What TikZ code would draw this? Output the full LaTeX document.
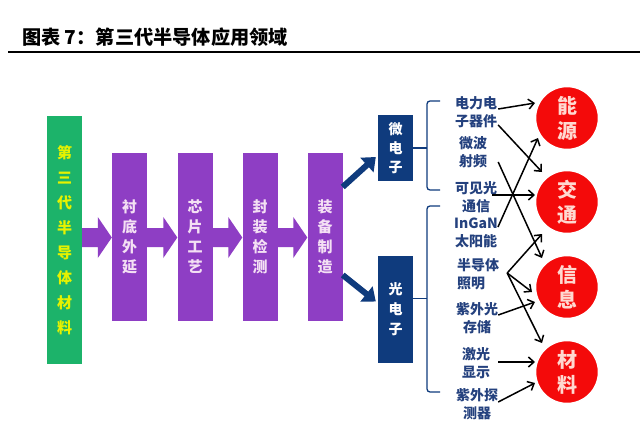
\documentclass[tikz,border=0pt]{standalone}
\usepackage{fontspec}
\setmainfont{Noto Sans CJK SC}
\usetikzlibrary{calc,arrows.meta}
\definecolor{purp}{HTML}{8E3EC4}
\definecolor{grn}{HTML}{1CB36A}
\definecolor{ylw}{HTML}{E6F200}
\definecolor{navy}{HTML}{0F3B7D}
\definecolor{lblue}{HTML}{24417E}
\definecolor{cred}{HTML}{F40A0A}
\definecolor{ctext}{HTML}{FFD8D0}
\definecolor{ptext}{HTML}{F4E0F4}
\begin{document}
\begin{tikzpicture}[x=1pt,y=-1pt,
  greenbox/.style={fill=grn, draw=none, minimum width=35, minimum height=248, inner sep=0,
    align=center, text=ylw, font=\fontsize{15}{25}\selectfont\bfseries},
  purpbox/.style={fill=purp, draw=none, minimum width=35, minimum height=168, inner sep=0,
    align=center, text=ptext, font=\fontsize{15}{20}\selectfont\bfseries},
  navybox/.style={fill=navy, draw=none, minimum width=35, inner sep=0,
    align=center, text=white, font=\fontsize{14}{19}\selectfont\bfseries},
  lbl/.style={align=center, inner sep=1pt, text=lblue, font=\fontsize{14}{18}\selectfont\bfseries},
  circ/.style={circle, fill=cred, draw=white, line width=1.5pt, minimum size=63, inner sep=0,
    align=center, text=ctext, font=\fontsize{20}{25}\selectfont\bfseries},
  brace/.style={navy, line width=1.3pt},
  bigarrow/.style={navy, line width=6pt, -{Triangle[length=12pt,width=19pt]}},
  thin/.style={black, line width=1.5pt, -{Straight Barb[length=5.5pt,width=10pt]}}
]
\useasboundingbox (0,0) rectangle (640,442);
\fill[white] (0,0) rectangle (640,442);

% title
\node[anchor=base west, inner sep=0, font=\fontsize{19.2}{21}\selectfont\bfseries] (title) at (22,44) {图表 7：第三代半导体应用领域};
\draw[line width=1.2pt] (8,52) -- (640,52);

% process chain
\node[greenbox] (g) at (64.5,240) {第\\三\\代\\半\\导\\体\\材\\料};
\node[purpbox] (b1) at (129.5,237) {衬\\底\\外\\延};
\node[purpbox] (b2) at (195,237) {芯\\片\\工\\艺};
\node[purpbox] (b3) at (260,237) {封\\装\\检\\测};
\node[purpbox] (b4) at (325,237) {装\\备\\制\\造};

\foreach \a/\b in {g/b1,b1/b2,b2/b3,b3/b4}{
  \path let \p1=(\a.east), \p2=(\b.west) in
    node[coordinate] at (0,0) {}
    [fill=purp] (\x1,228) -- (\x2-14,228) -- (\x2-14,217) -- (\x2,237.5) -- (\x2-14,258) -- (\x2-14,247) -- (\x1,247) -- cycle;
}

% micro / opto boxes
\node[navybox, minimum height=66] (m) at (395.5,148) {微\\电\\子};
\node[navybox, minimum height=107, font=\fontsize{14}{20}\selectfont\bfseries] (p) at (395.5,309.5) {光\\电\\子};

\draw[bigarrow] ($(b4.east)+(0,-50)$) -- ($(m.west)+(-2,9)$);
\draw[bigarrow] ($(b4.east)+(0,38)$) -- ($(p.west)+(-2,-8)$);

% braces
\draw[brace, rounded corners=3pt] (440,101) -- (427,101) -- (427,190) -- (440,190);
\draw[brace] (m.east) -- (427,148);
\draw[brace, rounded corners=3pt] (440,206) -- (427,206) -- (427,392) -- (440,392);
\draw[brace] ($(p.east)+(0,-11)$) -- (427,298.5);

% labels
\node[lbl] (l1) at (476,112) {电力电\\子器件};
\node[lbl] (l2) at (473,152) {微波\\射频};
\node[lbl] (l3) at (476,197) {可见光\\通信};
\node[lbl] (l4) at (476,233) {InGaN\\太阳能};
\node[lbl, align=left] (l5) at (478,274) {半导体\\照明};
\node[lbl] (l6) at (477,318) {紫外光\\存储};
\node[lbl] (l7) at (476,363) {激光\\显示};
\node[lbl] (l8) at (477,404) {紫外探\\测器};

% circles
\node[circ] (c1) at (567,118) {能\\源};
\node[circ] (c2) at (567,202) {交\\通};
\node[circ] (c3) at (567,287) {信\\息};
\node[circ] (c4) at (567,372) {材\\料};

% connectors
\draw[thin] ($(l1.east)+(0,-3)$) -- ($(c1)+(-32,-15)$);
\draw[thin] ($(l1.east)+(0,13)$) -- ($(c2)+(-25,-30)$);
\draw[thin] ($(l2.east)+(10,10)$) -- ($(c3)+(-25,-29)$);
\draw[thin] ($(l3.east)+(-6,-2)$) -- ($(c2)+(-32,-7)$);
\draw[thin] ($(l4.east)+(-1,-6)$) -- ($(c1)+(-29,20)$);
\coordinate (s5) at ($(l5.east)+(7,-1)$);
\draw[thin] (s5) -- ($(c2)+(-25,32)$);
\draw[thin] (s5) -- ($(c3)+(-35,5)$);
\draw[thin] (s5) -- ($(c4)+(-25,-29)$);
\draw[thin] ($(l6.east)+(-1,-3)$) -- ($(c3)+(-32,15)$);
\draw[thin] ($(l7.east)+(7,-1)$) -- ($(c4)+(-32,-10)$);
\draw[thin] ($(l8.east)+(-1,-2)$) -- ($(c4)+(-32,11)$);
\end{tikzpicture}
\end{document}
